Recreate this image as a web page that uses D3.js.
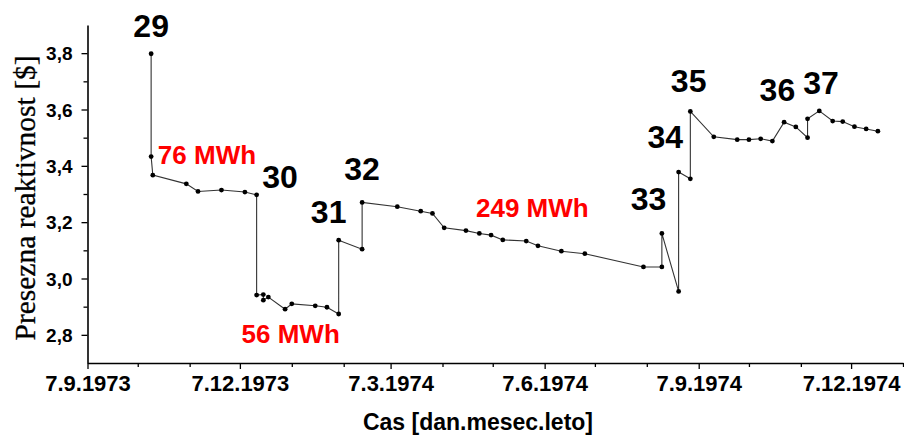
<!DOCTYPE html>
<html>
<head>
<meta charset="utf-8">
<script src="https://cdn.jsdelivr.net/npm/d3@7"></script>
<style>
  body { margin: 0; background: #fff; }
  svg { display: block; }
</style>
</head>
<body>
<svg id="chart" width="904" height="437"></svg>
<script>
// measurement dates and reactivity values
const dates = [
  '1973-10-15', '1973-10-15', '1973-10-16', '1973-11-05', '1973-11-12', '1973-11-26',
  '1973-12-10', '1973-12-17', '1973-12-17', '1973-12-21', '1973-12-21', '1973-12-24',
  '1974-01-03', '1974-01-07', '1974-01-21', '1974-01-28', '1974-02-04', '1974-02-04',
  '1974-02-18', '1974-02-18', '1974-03-11', '1974-03-25', '1974-04-01', '1974-04-08',
  '1974-04-21', '1974-04-29', '1974-05-06', '1974-05-13', '1974-05-27', '1974-06-03',
  '1974-06-17', '1974-07-01', '1974-08-05', '1974-08-16', '1974-08-16', '1974-08-26',
  '1974-08-26', '1974-09-02', '1974-09-02', '1974-09-16', '1974-09-30', '1974-10-07',
  '1974-10-14', '1974-10-21', '1974-10-28', '1974-11-04', '1974-11-11', '1974-11-11',
  '1974-11-18', '1974-11-26', '1974-12-02', '1974-12-09', '1974-12-16', '1974-12-23'
]
const values = [
  3.798, 3.433, 3.367, 3.336, 3.309, 3.314,
  3.307, 3.297, 2.941, 2.943, 2.923, 2.934,
  2.891, 2.910, 2.903, 2.898, 2.874, 3.136,
  3.104, 3.270, 3.255, 3.239, 3.231, 3.180,
  3.170, 3.160, 3.154, 3.137, 3.133, 3.116,
  3.097, 3.088, 3.041, 3.041, 3.160, 2.954,
  3.378, 3.354, 3.593, 3.503, 3.493, 3.493,
  3.496, 3.488, 3.555, 3.538, 3.500, 3.567,
  3.595, 3.559, 3.557, 3.539, 3.531, 3.523
]

// core loading numbers (label anchor: date, value)
const loadLabels = ['29', '30', '31', '32', '33', '34', '35', '36', '37']
const loadDates = ['1973-10-15', '1973-12-31', '1974-01-29', '1974-02-18', '1974-08-08', '1974-08-18', '1974-09-01', '1974-10-24', '1974-11-19']
const loadValues = [3.857, 3.321, 3.197, 3.350, 3.243, 3.463, 3.662, 3.630, 3.655]

// energy annotations
const energyLabels = ['76 MWh', '56 MWh', '249 MWh']
const energyDates = ['1973-10-19', '1973-12-08', '1974-04-27']
const energyValues = [3.406, 2.771, 3.218]

const yTicks = [2.8, 3.0, 3.2, 3.4, 3.6, 3.8]
const yMinor = [2.9, 3.1, 3.3, 3.5, 3.7]
const xStart = '1973-09-07'
const xEnd = '1975-01-07'

const parse = d3.timeParse('%Y-%m-%d')
const data = dates.map((d, i) => ({ date: parse(d), value: values[i] }))

const svg = d3.select('#chart')
const margin = { left: 87.5, top: 25, right: 1, bottom: 74 }
const width = 904
const height = 437
const sans = 'Arial, "Liberation Sans", sans-serif'

const x = d3.scaleTime()
    .domain([parse(xStart), parse(xEnd)])
    .range([margin.left, width - margin.right])
const y = d3.scaleLinear()
    .domain([2.7, 3.9])
    .range([height - margin.bottom, margin.top])

// ticks on the 7th of each month
const months = d3.timeMonth.range(parse('1973-09-01'), parse(xEnd))
    .map(m => d3.timeDay.offset(m, 6))
const majorX = months.filter((m, i) => i % 3 === 0 && m <= parse('1974-12-07'))
const minorX = months.filter((m, i) => i % 3 !== 0)

const fmtDate = d3.timeFormat('%-d.%-m.%Y')

// minor ticks first
svg.append('g')
    .attr('transform', `translate(0,${y(2.7)})`)
    .call(d3.axisBottom(x).tickValues(minorX).tickSize(4).tickFormat(''))
    .call(g => g.select('.domain').remove())
svg.append('g')
    .attr('transform', `translate(${margin.left},0)`)
    .call(d3.axisLeft(y).tickValues(yMinor).tickSize(4).tickFormat(''))
    .call(g => g.select('.domain').remove())

const xAxis = svg.append('g')
    .attr('transform', `translate(0,${y(2.7)})`)
    .call(d3.axisBottom(x).tickValues(majorX).tickSize(6).tickSizeOuter(0).tickFormat(fmtDate))
xAxis.selectAll('text')
    .attr('font-family', sans)
    .attr('font-weight', 'bold')
    .attr('font-size', 22)
    .attr('fill', '#000')
    .attr('dy', 0)
    .attr('y', 28)

const yAxis = svg.append('g')
    .attr('transform', `translate(${margin.left},0)`)
    .call(d3.axisLeft(y).tickValues(yTicks).tickSize(6).tickSizeOuter(0)
        .tickFormat(d => d3.format('.1f')(d).replace('.', ',')))
yAxis.selectAll('text')
    .attr('font-family', sans)
    .attr('font-weight', 'bold')
    .attr('font-size', 19)
    .attr('fill', '#000')
    .attr('dy', '0.35em')
    .attr('x', -15)

svg.selectAll('.domain').attr('stroke-width', 1.6)
svg.selectAll('.tick line').attr('stroke-width', 1.3)

// series line
svg.append('path')
    .datum(data)
    .attr('fill', 'none')
    .attr('stroke', '#333')
    .attr('stroke-width', 1.1)
    .attr('d', d3.line().x(d => x(d.date)).y(d => y(d.value)))

svg.append('g')
    .selectAll('circle')
    .data(data)
    .join('circle')
    .attr('cx', d => x(d.date))
    .attr('cy', d => y(d.value))
    .attr('r', 2.4)
    .attr('fill', '#000')

// core number labels
svg.append('g')
    .selectAll('text')
    .data(loadLabels)
    .join('text')
    .attr('x', (d, i) => x(parse(loadDates[i])))
    .attr('y', (d, i) => y(loadValues[i]))
    .attr('text-anchor', 'middle')
    .attr('font-family', sans)
    .attr('font-weight', 'bold')
    .attr('font-size', 32)
    .text(d => d)

// energy labels
svg.append('g')
    .selectAll('text')
    .data(energyLabels)
    .join('text')
    .attr('x', (d, i) => x(parse(energyDates[i])))
    .attr('y', (d, i) => y(energyValues[i]))
    .attr('font-family', sans)
    .attr('font-weight', 'bold')
    .attr('font-size', 26)
    .attr('fill', '#ff0000')
    .text(d => d)

// axis titles
svg.append('text')
    .attr('x', 478)
    .attr('y', 430)
    .attr('text-anchor', 'middle')
    .attr('font-family', sans)
    .attr('font-weight', 'bold')
    .attr('font-size', 23)
    .text('Cas [dan.mesec.leto]')

svg.append('text')
    .attr('transform', 'translate(35,198) rotate(-90)')
    .attr('text-anchor', 'middle')
    .attr('font-family', '"Times New Roman", "Liberation Serif", serif')
    .attr('font-size', 29.5)
    .attr('stroke', '#000')
    .attr('stroke-width', 0.3)
    .text('Presezna reaktivnost [$]')
</script>
</body>
</html>
